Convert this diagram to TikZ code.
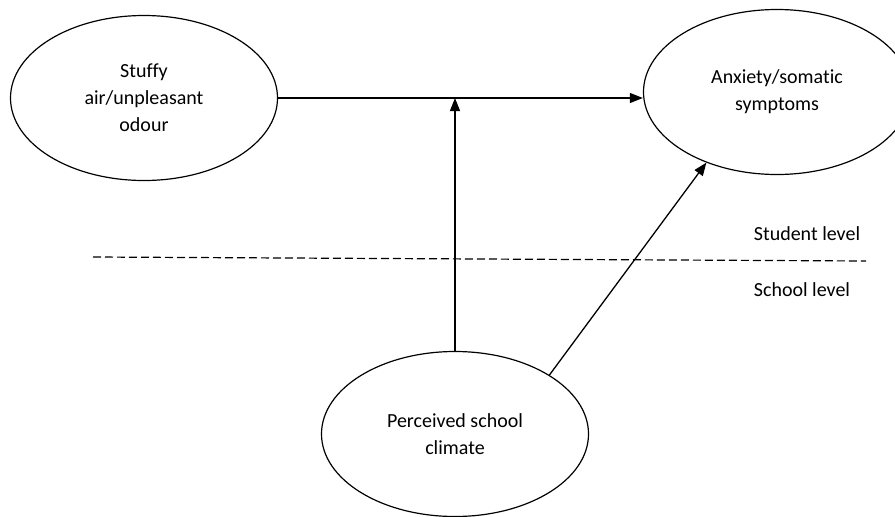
\documentclass[tikz,border=0pt]{standalone}
\usepackage{fontspec}
\setmainfont{Carlito}[Ligatures=NoCommon]
\usetikzlibrary{shapes.geometric,arrows.meta}
\begin{document}
\begin{tikzpicture}[x=1pt,y=-1pt,
  oval/.style={ellipse,draw,line width=1.2pt,minimum width=267pt,minimum height=165pt,inner sep=0pt,align=center,font=\fontsize{20}{27}\selectfont},
  conn/.style={line width=1.3pt,-{Triangle[length=13pt,width=10pt]}},
  lvl/.style={font=\fontsize{20}{24}\selectfont,inner sep=0pt}]
\useasboundingbox (0,0) rectangle (895,517);
\clip (0,0) rectangle (895,517);
\node[oval] (s) at (144,98) {Stuffy\\air/unpleasant\\odour};
\node[oval] (a) at (777,92) {Anxiety/somatic\\symptoms};
\node[oval] (p) at (455,434) {Perceived school\\climate};
\coordinate (dl) at (93,257);
\coordinate (dr) at (866,261);
\draw[line width=1.2pt,dash pattern=on 8pt off 4pt] (dl) -- (dr);
\node[lvl] (st) at (807,234) {Student level};
\node[lvl] (sc) at (802,290) {School level};
\draw[conn] (s.east) -- (s.east -| a.west);
\draw[conn] (p.north) -- (p.north |- s.east);
\draw[conn] (p.32.5) -- (a.225.8);
\end{tikzpicture}
\end{document}
